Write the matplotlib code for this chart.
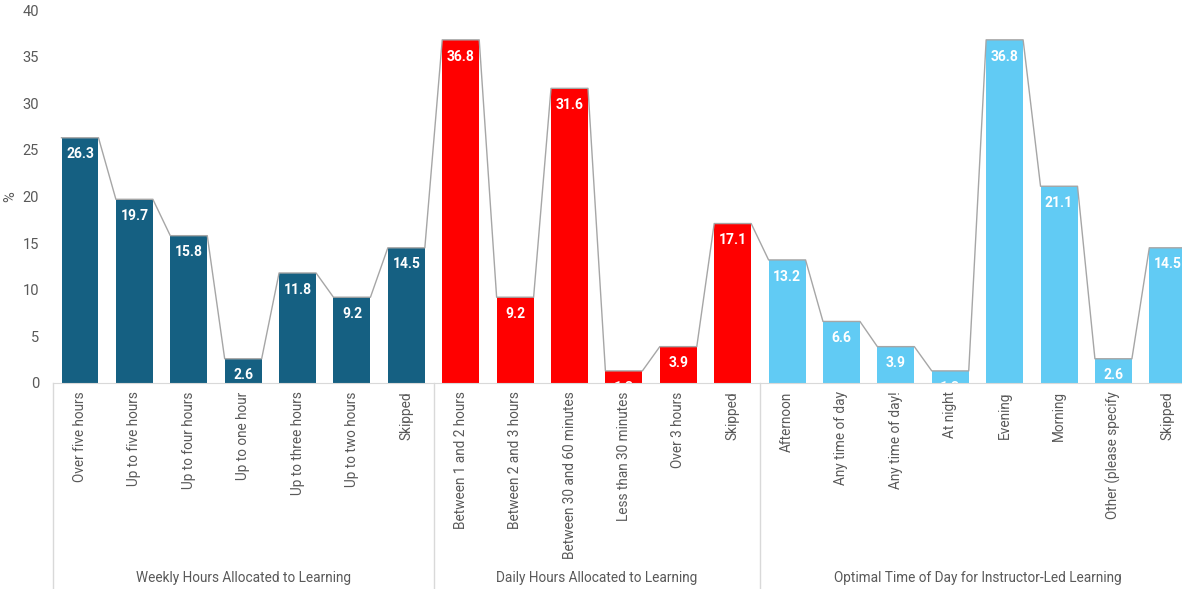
import matplotlib

matplotlib.use('Agg')
import matplotlib.pyplot as plt
import matplotlib.transforms as mtransforms

# Survey answers, three question groups shown side by side
weekly_labels = ['Over five hours', 'Up to five hours', 'Up to four hours', 'Up to one hour',
                 'Up to three hours', 'Up to two hours', 'Skipped']
weekly_values = [26.3, 19.7, 15.8, 2.6, 11.8, 9.2, 14.5]

daily_labels = ['Between 1 and 2 hours', 'Between 2 and 3 hours', 'Between 30 and 60 minutes',
                'Less than 30 minutes', 'Over 3 hours', 'Skipped']
daily_values = [36.8, 9.2, 31.6, 1.3, 3.9, 17.1]

time_labels = ['Afternoon', 'Any time of day', 'Any time of day!', 'At night', 'Evening',
               'Morning', 'Other (please specify', 'Skipped']
time_values = [13.2, 6.6, 3.9, 1.3, 36.8, 21.1, 2.6, 14.5]

group_titles = ['Weekly Hours Allocated to Learning', 'Daily Hours Allocated to Learning',
                'Optimal Time of Day for Instructor-Led Learning']
group_colors = ['#156082', '#FF0000', '#61CBF4']

groups = [(weekly_labels, weekly_values), (daily_labels, daily_values), (time_labels, time_values)]

plt.rcParams['font.family'] = ['Roboto', 'DejaVu Sans']
TEXT = '#595959'
BAR_W = 0.68

W, H = 1182, 589
fig = plt.figure(figsize=(W / 100, H / 100), dpi=100)
# plot area runs a little past the right edge of the canvas
left, right, top, bottom = 52.8, 1195.0, 10.0, 383.0
ax = fig.add_axes([left / W, 1 - bottom / H, (right - left) / W, (bottom - top) / H])

labels, values, colors = [], [], []
bounds = []
for (labs, vals), col in zip(groups, group_colors):
    start = len(labels)
    labels += labs
    values += vals
    colors += [col] * len(vals)
    bounds.append((start, len(labels)))

xs = list(range(len(values)))
bars = ax.bar(xs, values, width=BAR_W, color=colors, zorder=2)

# thin grey line tracing the top of each bar and joining neighbours
line_x, line_y = [], []
for x, v in zip(xs, values):
    line_x += [x - BAR_W / 2, x + BAR_W / 2]
    line_y += [v, v]
ax.plot(line_x, line_y, color='#A6A6A6', lw=1, zorder=3)

for x, v in zip(xs, values):
    ax.annotate(f'{v:.1f}', (x, v), xytext=(0, -12), textcoords='offset points',
                ha='center', va='center', color='white', fontsize=10, fontweight='bold',
                zorder=4, clip_on=True)

ax.set_xlim(-0.5, len(values) - 0.5)
ax.set_ylim(0, 40)
ax.set_yticks(range(0, 41, 5))
ax.set_xticks(xs)
ax.set_xticklabels(labels, rotation=90, va='top', ha='center')
ax.tick_params(axis='x', length=0, pad=6, labelsize=9.8, labelcolor=TEXT)
ax.tick_params(axis='y', length=0, pad=10, labelsize=10.5, labelcolor=TEXT)
ax.set_ylabel('%', color=TEXT, fontsize=10.5, labelpad=4)

for side in ['top', 'right', 'left']:
    ax.spines[side].set_visible(False)
ax.spines['bottom'].set_color('#D9D9D9')

# group dividers and titles beneath the category labels
trans = mtransforms.blended_transform_factory(ax.transData, ax.transAxes)
floor = -(H - bottom) / (bottom - top)
for (start, end), title in zip(bounds, group_titles):
    ax.plot([start - 0.5, start - 0.5], [0, floor], color='#D9D9D9', lw=1,
            transform=trans, clip_on=False)
    ax.text((start + end - 1) / 2, (bottom - 578) / (bottom - top), title, transform=trans,
            ha='center', va='center', fontsize=9.8, color=TEXT)

fig.savefig('out.png', dpi=100)
